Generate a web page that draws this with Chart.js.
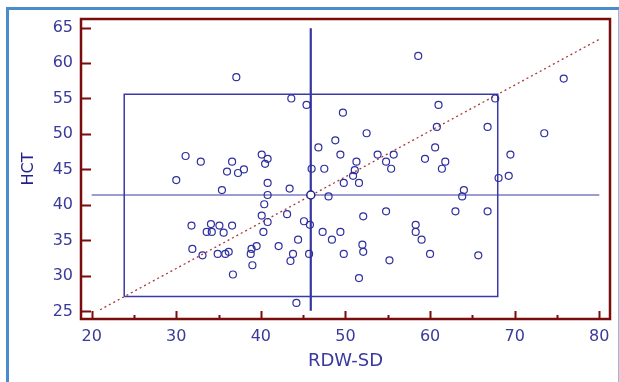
<!DOCTYPE html>
<html>
<head>
<meta charset="utf-8">
<script src="https://cdn.jsdelivr.net/npm/chart.js@4.4.1/dist/chart.umd.min.js"></script>
<style>
  html, body { margin: 0; padding: 0; background: #fff; }
  #wrap { position: relative; width: 619px; height: 382px; overflow: hidden; }
  #frame {
    position: absolute; left: 6px; top: 7px; width: 609px; height: 380px;
    border-left: 3px solid #4a8bcb; border-top: 3px solid #4a8bcb; border-right: 3px solid #8fbbe3;
  }
  canvas { position: absolute; left: 0; top: 0; }
</style>
</head>
<body>
<div id="wrap">
  <div id="frame"></div>
  <canvas id="chart" width="619" height="382"></canvas>
</div>
<script>
// Scatter data
const rdwSd = [
  37.1, 31.1, 32.9, 30.0, 36.6, 36.0, 37.3, 38.0, 35.4, 40.1,
  40.8, 40.5, 40.8, 40.8, 43.4, 43.6, 45.4, 58.6, 75.8, 67.7,
  49.7, 61.0, 60.8, 66.8, 73.5, 52.5, 46.8, 48.8, 60.6, 49.4,
  53.8, 55.7, 69.5, 51.3, 54.8, 59.4, 61.8, 46.0, 47.5, 51.1,
  55.4, 61.4, 50.9, 49.8, 51.6, 68.1, 69.3, 64.0, 63.8, 48.0,
  40.4, 40.1, 40.8, 43.1, 45.1, 45.8, 31.8, 34.1, 35.1, 36.6,
  33.6, 34.2, 35.6, 40.3, 44.4, 31.9, 33.1, 34.9, 35.8, 36.2,
  38.9, 39.5, 38.8, 42.1, 43.8, 43.5, 45.7, 39.0, 36.7, 44.2,
  52.1, 54.8, 47.3, 49.4, 48.4, 49.8, 52.0, 52.1, 55.2, 51.6,
  58.3, 58.3, 59.0, 60.0, 63.0, 66.8, 65.7
];
const hct = [
  58.0, 46.9, 46.1, 43.5, 46.1, 44.7, 44.5, 45.0, 42.1, 47.1,
  46.5, 45.8, 43.1, 41.4, 42.3, 55.0, 54.1, 61.0, 57.8, 55.0,
  53.0, 54.1, 51.0, 51.0, 50.1, 50.1, 48.1, 49.1, 48.1, 47.1,
  47.1, 47.1, 47.1, 46.1, 46.1, 46.5, 46.1, 45.1, 45.1, 44.9,
  45.1, 45.1, 44.1, 43.1, 43.1, 43.8, 44.1, 42.1, 41.2, 41.2,
  40.1, 38.5, 37.6, 38.7, 37.7, 37.2, 37.1, 37.3, 37.1, 37.1,
  36.2, 36.2, 36.1, 36.2, 35.1, 33.8, 32.9, 33.1, 33.1, 33.4,
  33.8, 34.2, 33.1, 34.2, 33.1, 32.1, 33.1, 31.5, 30.2, 26.2,
  38.4, 39.1, 36.2, 36.2, 35.1, 33.1, 34.4, 33.4, 32.2, 29.7,
  37.2, 36.2, 35.1, 33.1, 39.1, 39.1, 32.9
];

// Mean point and guide lines
const meanX = [45.9];
const meanY = [41.4];
const regX = [21, 80];
const regY = [25.24, 63.34];
const boxX = [23.85, 68.0, 68.0, 23.85, 23.85];
const boxY = [27.1, 27.1, 55.6, 55.6, 27.1];
const vLineX = [45.9, 45.9];
const vLineY = [25.1, 64.9];
const hLineX = [20, 80];
const hLineY = [41.4, 41.4];

// Axis ticks
const xTicks = [20, 30, 40, 50, 60, 70, 80];
const xMinorTicks = [25, 35, 45, 55, 65, 75];
const yTicks = [25, 30, 35, 40, 45, 50, 55, 60, 65];

const pts = (xs, ys) => xs.map((x, i) => ({ x, y: ys[i] }));

const navy = '#2f2f9f';
const labelColor = '#3a3a9c';
const frameRed = '#7a0c0c';

const framePlugin = {
  id: 'framePlugin',
  afterDraw(chart) {
    const { ctx, chartArea: a, scales } = chart;
    ctx.save();
    ctx.strokeStyle = frameRed;
    ctx.lineWidth = 2.5;
    ctx.strokeRect(a.left, a.top, a.right - a.left, a.bottom - a.top);
    ctx.lineWidth = 2;
    ctx.beginPath();
    yTicks.forEach(v => {
      const py = Math.round(scales.y.getPixelForValue(v)) + 0.5;
      ctx.moveTo(a.left, py);
      ctx.lineTo(a.left + 10, py);
    });
    xTicks.forEach(v => {
      const px = Math.round(scales.x.getPixelForValue(v)) + 0.5;
      ctx.moveTo(px, a.bottom);
      ctx.lineTo(px, a.bottom - 8);
    });
    xMinorTicks.forEach(v => {
      const px = Math.round(scales.x.getPixelForValue(v)) + 0.5;
      ctx.moveTo(px, a.bottom);
      ctx.lineTo(px, a.bottom - 4);
    });
    ctx.stroke();
    ctx.restore();
  }
};

const lineSet = (data, color, width, dash, order) => ({
  type: 'line',
  data,
  borderColor: color,
  borderWidth: width,
  borderDash: dash,
  pointRadius: 0,
  fill: false,
  tension: 0,
  order
});

new Chart(document.getElementById('chart'), {
  type: 'scatter',
  data: {
    datasets: [
      lineSet(pts(regX, regY), '#a83a3a', 1.3, [2, 3], 5),
      lineSet(pts(boxX, boxY), '#3a3aa2', 1.5, [], 4),
      lineSet(pts(hLineX, hLineY), '#3a3aa2', 1.2, [], 4),
      lineSet(pts(vLineX, vLineY), '#3535a0', 2.2, [], 4),
      {
        data: pts(rdwSd, hct),
        pointStyle: 'circle',
        pointRadius: 3.5,
        borderColor: navy,
        borderWidth: 1.2,
        backgroundColor: 'rgba(255,255,255,0)',
        order: 1
      },
      {
        data: pts(meanX, meanY),
        pointStyle: 'circle',
        pointRadius: 4,
        borderColor: '#20208a',
        borderWidth: 1.5,
        backgroundColor: '#ffffff',
        order: 0
      }
    ]
  },
  options: {
    responsive: false,
    animation: false,
    devicePixelRatio: 1,
    layout: { padding: { left: 0, top: 19, right: 9, bottom: 0 } },
    plugins: { legend: { display: false }, tooltip: { enabled: false } },
    scales: {
      x: {
        type: 'linear',
        min: 18.74,
        max: 81.27,
        grid: { display: false, drawTicks: false },
        border: { display: false },
        afterBuildTicks: s => { s.ticks = xTicks.map(v => ({ value: v })); },
        afterFit: s => { s.height = 63; },
        ticks: {
          color: labelColor,
          padding: 8,
          maxRotation: 0,
          font: { family: 'DejaVu Sans', size: 16 }
        },
        title: {
          display: true,
          text: 'RDW-SD',
          color: labelColor,
          font: { family: 'DejaVu Sans', size: 18 },
          padding: { top: 0, bottom: 9.5 }
        }
      },
      y: {
        type: 'linear',
        min: 23.93,
        max: 66.2,
        grid: { display: false, drawTicks: false },
        border: { display: false },
        afterBuildTicks: s => { s.ticks = yTicks.map(v => ({ value: v })); },
        afterFit: s => { s.width = 81; },
        ticks: {
          color: labelColor,
          padding: 8,
          font: { family: 'DejaVu Sans', size: 16 }
        },
        title: {
          display: true,
          text: 'HCT',
          color: '#22228a',
          font: { family: 'DejaVu Sans', size: 16 },
          padding: { top: 19.5, bottom: 0 }
        }
      }
    }
  },
  plugins: [framePlugin]
});
</script>
</body>
</html>
